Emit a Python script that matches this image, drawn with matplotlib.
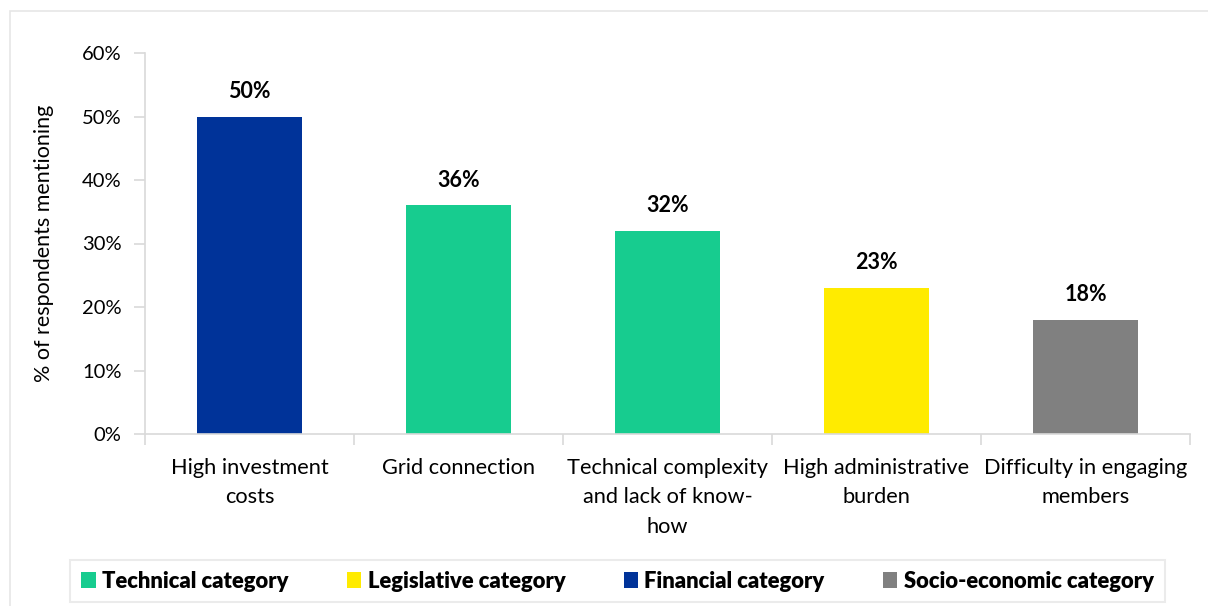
import matplotlib.pyplot as plt
from matplotlib.patches import Rectangle, Patch

plt.rcParams['font.family'] = ['Lato', 'DejaVu Sans']

categories = ['High investment\ncosts', 'Grid connection',
              'Technical complexity\nand lack of know-\nhow',
              'High administrative\nburden', 'Difficulty in engaging\nmembers']
values = [50, 36, 32, 23, 18]
bar_groups = ['Financial', 'Technical', 'Technical', 'Legislative', 'Socio-economic']

group_colors = {
    'Technical': '#17cc8f',
    'Legislative': '#ffeb00',
    'Financial': '#003399',
    'Socio-economic': '#808080',
}
legend_order = ['Technical', 'Legislative', 'Financial', 'Socio-economic']

axis_grey = '#d9d9d9'

fig = plt.figure(figsize=(12.08, 6.06), dpi=100)
W, H = 1208, 606

# outer chart frame (runs off the right and bottom edges)
fig.patches.append(Rectangle((10 / W, -0.1), 1.2, (606 - 11) / H + 0.1,
                             transform=fig.transFigure, fill=False,
                             edgecolor='#e6e6e6', linewidth=1.2))

ax = fig.add_axes([145 / W, (606 - 434) / H, (1190 - 145) / W, (434 - 53) / H])

x = range(len(categories))
colors = [group_colors[g] for g in bar_groups]
ax.bar(x, values, width=0.5, color=colors, zorder=2)

for xi, v in zip(x, values):
    ax.text(xi, v + 2.3, f'{v}%', ha='center', va='bottom',
            fontsize=15.5, fontweight='bold', color='black')

ax.set_xlim(-0.5, len(categories) - 0.5)
ax.set_ylim(0, 60)
ax.set_yticks(range(0, 61, 10))
ax.set_yticklabels([f'{t}%' for t in range(0, 61, 10)], fontsize=14.5)
ax.set_ylabel('% of respondents mentioning', fontsize=15.5, labelpad=20)

ax.set_xticks([i - 0.5 for i in range(len(categories) + 1)], minor=False)
ax.set_xticklabels([])
ax.set_xticks(list(x), minor=True)
ax.set_xticklabels(categories, minor=True, fontsize=15.7, linespacing=1.6)
ax.tick_params(axis='x', which='minor', length=0, pad=17)
ax.tick_params(axis='x', which='major', length=8, color=axis_grey, width=1.2)
ax.tick_params(axis='y', length=8, color=axis_grey, width=1.2, pad=9)

for side in ['top', 'right']:
    ax.spines[side].set_visible(False)
for side in ['left', 'bottom']:
    ax.spines[side].set_color(axis_grey)
    ax.spines[side].set_linewidth(1.2)

handles = [Patch(facecolor=group_colors[g], label=f'{g} category') for g in legend_order]
leg = fig.legend(handles=handles, loc='center', bbox_to_anchor=(617.5 / W, (606 - 581) / H),
                 ncol=4, frameon=True, fancybox=False, handlelength=0.65, handleheight=0.7,
                 handletextpad=0.3, columnspacing=2.65, borderpad=0.5,
                 prop={'weight': 'heavy', 'size': 15.8})
leg.get_frame().set_edgecolor('#e6e6e6')
leg.get_frame().set_linewidth(1.5)

fig.savefig('out.png', dpi=100)
